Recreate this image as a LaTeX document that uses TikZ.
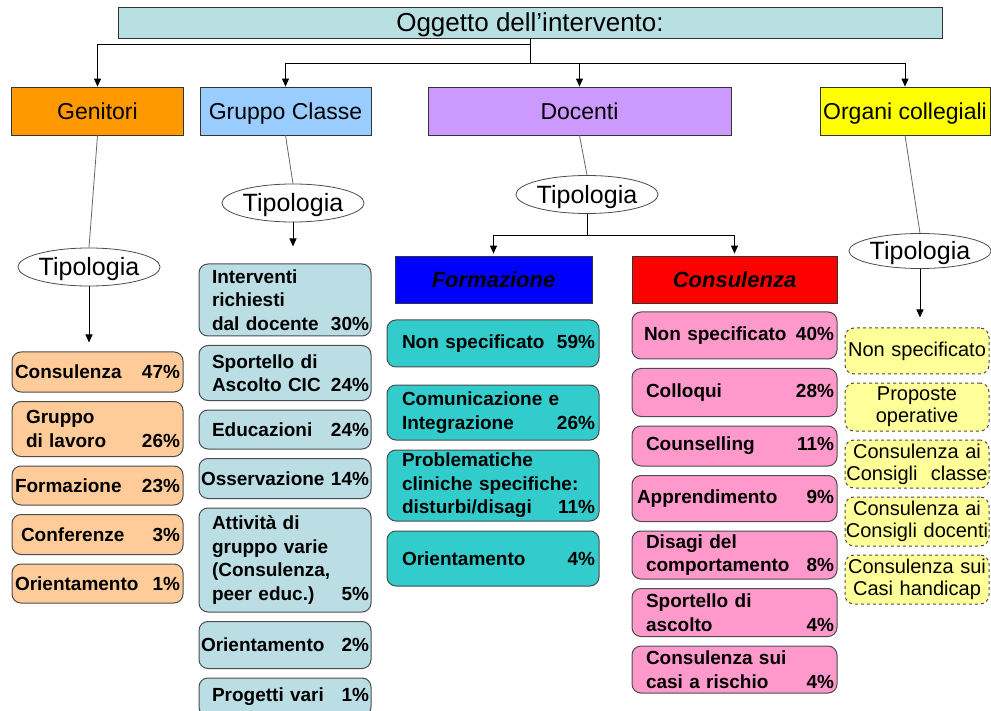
\documentclass[tikz,border=0pt]{standalone}
\usepackage{fontspec}
\setmainfont{Liberation Sans}
\usetikzlibrary{arrows.meta, positioning, shapes.geometric}

\hyphenpenalty=10000
\exhyphenpenalty=10000

\definecolor{topbox}{RGB}{184,224,226}
\definecolor{genbox}{RGB}{255,153,0}
\definecolor{grpbox}{RGB}{153,204,255}
\definecolor{docbox}{RGB}{204,153,255}
\definecolor{orgbox}{RGB}{255,255,0}
\definecolor{genitem}{RGB}{255,204,153}
\definecolor{grpitem}{RGB}{186,222,228}
\definecolor{formitem}{RGB}{51,204,204}
\definecolor{consitem}{RGB}{255,153,204}
\definecolor{orgitem}{RGB}{255,255,153}

\newcommand{\perc}[1]{\nobreak\hskip 6pt plus 1filll #1\%}
\newcommand{\indt}{\hspace*{11pt}}

\begin{document}
\begin{tikzpicture}[x=1pt, y=-1pt,
    head/.style={draw=black!80, line width=0.8pt, minimum height=48pt, inner sep=0pt, text height=17pt, text depth=0.5pt, font=\fontsize{23}{27}\selectfont},
    tipo/.style={ellipse, draw=black!70, line width=0.8pt, fill=white, minimum width=140pt, minimum height=38pt, inner sep=0pt, text height=18.5pt, text depth=0.6pt, font=\fontsize{25}{28}\selectfont},
    sub/.style={draw=black!80, line width=0.8pt, minimum height=47pt, inner sep=0pt, text height=16.3pt, text depth=0.5pt, font=\bfseries\itshape\fontsize{22}{26}\selectfont},
    item/.style={draw=black!70, line width=1pt, rounded corners=9pt, align=left, inner ysep=2pt, font=\bfseries\fontsize{19}{23.5}\selectfont},
    gitem/.style={item, fill=genitem, inner xsep=3pt, text width=165pt, minimum height=40pt},
    citem/.style={item, fill=grpitem, inner xsep=2pt, text width=168pt, minimum height=40pt},
    fitem/.style={item, fill=formitem, inner xsep=4pt, text width=204pt, minimum height=55pt},
    kitem/.style={item, fill=consitem, inner xsep=3pt, text width=199pt, minimum height=48pt},
    oitem/.style={item, fill=orgitem, dashed, align=center, inner xsep=0pt, text width=144pt, minimum height=48pt, font=\fontsize{20}{22}\selectfont},
    arr/.style={line width=0.9pt, -{Triangle[length=8pt, width=7pt]}},
    link/.style={line width=0.8pt, black!60},
    node distance=8.5pt]

    \useasboundingbox (0,0) rectangle (991,711);

    % Top box
    \node[draw=black!80, fill=topbox, minimum width=824pt, minimum height=31pt, inner sep=0pt, text height=19pt, text depth=0.4pt, font=\fontsize{26}{30}\selectfont] (ogg) at (530,22.5) {Oggetto dell’intervento:};

    % Headers
    \node[head, fill=genbox, minimum width=172pt] (gen) at (97.5,111) {Genitori};
    \node[head, fill=grpbox, minimum width=171pt] (grp) at (285.5,111) {Gruppo Classe};
    \node[head, fill=docbox, minimum width=303pt] (doc) at (579.5,111) {Docenti};
    \node[head, fill=orgbox, minimum width=170pt] (org) at (905,111) {Organi collegiali};

    % Tipologia
    \node[tipo] (tgen) at (89,267) {Tipologia};
    \node[tipo] (tgrp) at (293,203) {Tipologia};
    \node[tipo] (tdoc) at (587,194.5) {Tipologia};
    \node[tipo, minimum width=136pt, minimum height=35pt] (torg) at (920,251) {Tipologia};

    % Docenti sub boxes
    \node[sub, fill=blue, minimum width=197pt] (form) at (493.5,279.5) {Formazione};
    \node[sub, fill=red, minimum width=205pt] (cons) at (734.5,279.5) {Consulenza};

    % Genitori
    \node[gitem] (g1) at (97.5,372) {Consulenza\perc{47}};
    \node[gitem, below=of g1, minimum height=55pt] (g2) {\indt Gruppo\\\indt di lavoro\perc{26}\hspace*{5pt}};
    \node[gitem, below=of g2, minimum height=39pt] (g3) {Formazione\perc{23}};
    \node[gitem, below=of g3] (g4) {\hspace*{6pt}Conferenze\perc{3}\hspace*{6pt}};
    \node[gitem, below=of g4, minimum height=39pt] (g5) {Orientamento\perc{1}};

    % Gruppo Classe
    \node[citem, minimum height=72pt] (c1) at (285,300) {\indt Interventi\\\indt richiesti\\\indt dal docente\perc{30}};
    \node[citem, below=of c1, minimum height=55pt] (c2) {\indt Sportello di\\\indt Ascolto CIC\perc{24}};
    \node[citem, below=of c2, minimum height=39pt] (c3) {\indt Educazioni\perc{24}\hspace*{2pt}};
    \node[citem, below=of c3] (c4) {Osservazione\perc{14}};
    \node[citem, below=of c4, minimum height=104pt] (c5) {\indt Attività di\\\indt gruppo varie\\\indt (Consulenza,\\\indt peer educ.)\perc{5}\hspace*{2pt}};
    \node[citem, below=of c5, minimum height=47pt] (c6) {Orientamento\perc{2}\hspace*{2pt}};
    \node[citem, below=of c6, minimum height=38pt] (c7) {\indt Progetti vari\perc{1}\hspace*{6pt}};

    % Formazione
    \node[fitem, minimum height=47pt] (f1) at (493,343.5) {\indt Non specificato\perc{59}};
    \node[fitem, below=17pt of f1] (f2) {\indt Comunicazione e\\\indt Integrazione\perc{26}};
    \node[fitem, below=9pt of f2, minimum height=71pt] (f3) {\indt Problematiche\\\indt cliniche specifiche:\\\indt disturbi/disagi\perc{11}};
    \node[fitem, below=9pt of f3] (f4) {\indt Orientamento\perc{4}};

    % Consulenza
    \node[kitem, minimum height=47pt] (k1) at (734.5,335.5) {\hspace*{9pt}Non~specificato\perc{40}};
    \node[kitem, below=of k1] (k2) {\indt Colloqui\perc{28}\hspace*{4pt}};
    \node[kitem, below=of k2, minimum height=40pt] (k3) {\indt Counselling\perc{11}\hspace*{3pt}};
    \node[kitem, below=of k3, minimum height=46pt] (k4) {\hspace*{2pt}Apprendimento\perc{9}\hspace*{6pt}};
    \node[kitem, below=of k4] (k5) {\indt Disagi del\\\indt comportamento\perc{8}\hspace*{3pt}};
    \node[kitem, below=of k5] (k6) {\indt Sportello di\\\indt ascolto\perc{4}\hspace*{8pt}};
    \node[kitem, below=of k6, minimum height=47pt] (k7) {\indt Consulenza sui\\\indt casi a rischio\perc{4}\hspace*{6pt}};

    % Organi collegiali
    \node[oitem, minimum height=46pt] (o1) at (917,351) {Non~specificato};
    \node[oitem, below=8pt of o1] (o2) {Proposte\\operative};
    \node[oitem, below=8pt of o2] (o3) {Consulenza~ai\\Consigli\ \ classe};
    \node[oitem, below=8pt of o3, minimum height=49pt] (o4) {Consulenza~ai\\Consigli~docenti};
    \node[oitem, below=8pt of o4, minimum height=49pt] (o5) {Consulenza~sui\\Casi~handicap};

    % Connectors from the top box
    \draw[arr] (ogg.south) -- ++(0,6) -| (gen.north);
    \draw[line width=0.9pt] (ogg.south) -- ++(0,25) coordinate (hub);
    \draw[arr] (hub) -| (grp.north);
    \draw[arr] (hub) -| (doc.north);
    \draw[arr] (hub) -| (org.north);

    % Headers to Tipologia
    \draw[link] (gen.south) -- (tgen.north);
    \draw[link] (grp.south) -- (tgrp.north);
    \draw[link] (doc.south) -- (tdoc.north);
    \draw[link] (org.south) -- (torg.north);

    % Tipologia to lists
    \draw[arr, shorten >=9pt] (tgen.south) -- (tgen.south |- g1.north);
    \draw[arr, shorten >=17pt] (tgrp.south) -- (tgrp.south |- c1.north);
    \draw[arr, shorten >=10pt] (torg.south) -- (torg.south |- o1.north);
    \draw[line width=0.9pt] (tdoc.south) -- ++(0,22) coordinate (dsplit);
    \draw[arr, shorten >=2pt] (dsplit) -| (form.north);
    \draw[arr, shorten >=2pt] (dsplit) -| (cons.north);
\end{tikzpicture}
\end{document}
